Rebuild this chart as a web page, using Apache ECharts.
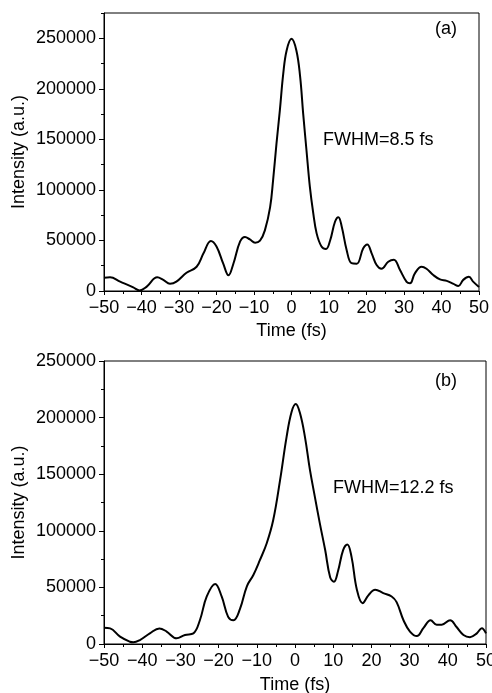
<!DOCTYPE html>
<html>
<head>
<meta charset="utf-8">
<script src="https://cdn.jsdelivr.net/npm/echarts@6/dist/echarts.min.js"></script>
<style>
html,body{margin:0;padding:0;background:#fff;}
#chart{width:492px;height:693px;}
</style>
</head>
<body>
<div id="chart"></div>
<script>
// Panel (a)
var timeA = [-50,-48.4,-45.7,-42.2,-40.5,-38.6,-35.8,-34.2,-32.4,-30.7,-28,-25.3,-23.5,-21.5,-20,-18.2,-16.8,-15.5,-13.7,-12.4,-11.1,-9.7,-8.4,-7.1,-5.7,-4.9,-4,-3.1,-2.2,-1.3,0,1.3,2.3,3.1,4,4.9,5.8,6.7,8,9.2,10.3,11.6,12.5,13.4,14.7,16,17.4,19.1,20.2,21.4,22.7,24,25.8,27.3,28.9,30.7,31.6,32.9,34.7,36,37.8,39.6,41.4,43.2,44.5,45.8,47.3,48.5,50];
var intensityA = [13000,13500,9200,3600,500,4300,13500,11000,7200,9200,18000,24000,37000,49500,44000,27000,15500,27000,49000,53500,51000,47800,49800,60000,83000,110000,146000,179000,215000,238000,249500,238000,212000,176000,139000,103000,77000,57000,44000,41500,50000,68500,73000,63600,40600,27500,27000,42000,46000,37000,25700,22000,29000,31000,21000,9000,7600,17500,24000,22000,15800,11500,10000,7000,5000,11000,14000,9000,4000];
// Panel (b)
var timeB = [-50,-48.4,-45.8,-43.2,-42.3,-40.6,-38,-35.5,-33.6,-31,-28.8,-26.6,-24.9,-23.1,-20.9,-19.2,-17.5,-16.1,-14.4,-12.6,-10.9,-9.2,-7.4,-5.7,-3.9,-2.2,-0.9,0.2,1.3,2.6,3.9,5.2,6.5,7.9,9.2,10.2,11.3,12.6,13.7,14.8,16.2,17.7,19.2,21,23.1,25.3,26.6,28.4,30.1,31.9,33.6,35.5,37.1,38.4,40.6,42.3,44.1,45.8,47.6,48.9,50];
var intensityB = [14400,13800,6500,2000,1500,3500,9400,13800,11000,5000,8000,9400,21000,42000,53000,42000,24000,21000,31000,51000,61000,74000,89000,109500,145000,183000,205000,212000,204000,183000,154000,130000,106600,83000,59000,55000,65000,83000,88000,77000,48000,36000,43000,48000,45000,42000,37000,21000,11000,7000,14000,21000,17000,17000,21000,15000,8000,6000,9400,14000,9400];

var xTicks = [-50,-40,-30,-20,-10,0,10,20,30,40,50];
var yTicks = [0,50000,100000,150000,200000,250000];
var panelLabels = ['(a)','(b)'];
var fwhmLabels = ['FWHM=8.5 fs','FWHM=12.2 fs'];
var xName = 'Time (fs)';
var yName = 'Intensity (a.u.)';

function zip(a,b){return a.map(function(t,i){return [t,b[i]];});}
var FONT = 'Liberation Sans, Arial, sans-serif';
var FS = 18;
function minusFmt(v){return String(v).replace('-','\u2212');}
function plainFmt(v){return String(v);}

function xAxisFor(grid, gap){
  return {
    gridIndex: grid, type:'value', min:-50, max:50, interval:10,
    name: xName, nameLocation:'middle', nameGap: gap, nameMoveOverlap:false,
    nameTextStyle:{fontFamily:FONT,fontSize:FS,color:'#000'},
    axisLine:{show:true,onZero:false,lineStyle:{color:'#000',width:1}},
    axisTick:{show:true,length:4,lineStyle:{color:'#000'}},
    minorTick:{show:true,splitNumber:2,length:3,lineStyle:{color:'#000'}},
    axisLabel:{fontFamily:FONT,fontSize:FS,color:'#000',margin:8,formatter:minusFmt},
    splitLine:{show:false}, minorSplitLine:{show:false}
  };
}
function yAxisMain(grid, max){
  return {
    gridIndex:grid, type:'value', min:0, max:max, interval:50000,
    name:yName, nameLocation:'middle', nameGap:76, nameMoveOverlap:false,
    nameTextStyle:{fontFamily:FONT,fontSize:FS,color:'#000'},
    axisLine:{show:true,onZero:false,lineStyle:{color:'#000',width:1}},
    axisTick:{show:true,length:5,customValues:yTicks,lineStyle:{color:'#000'}},
    axisLabel:{fontFamily:FONT,fontSize:FS,color:'#000',margin:8,customValues:yTicks,formatter:plainFmt},
    splitLine:{show:false}
  };
}
function yAxisMinor(grid, max){
  return {
    gridIndex:grid, type:'value', min:0, max:max, interval:25000, position:'left', offset:0,
    axisLine:{show:false,onZero:false},
    axisTick:{show:true,length:3,lineStyle:{color:'#000'}},
    axisLabel:{show:false},
    splitLine:{show:false}
  };
}

var chart = echarts.init(document.getElementById('chart'), null, {renderer:'canvas'});
chart.setOption({
  animation:false,
  backgroundColor:'#fff',
  grid:[
    {left:104, top:13, width:375, height:278, show:true, borderColor:'#000', borderWidth:1, backgroundColor:'transparent', containLabel:false, outerBoundsMode:'none'},
    {left:104, top:361, width:382, height:283, show:true, borderColor:'#000', borderWidth:1, backgroundColor:'transparent', containLabel:false, outerBoundsMode:'none'}
  ],
  xAxis:[ xAxisFor(0,31), xAxisFor(1,32) ],
  yAxis:[ yAxisMain(0,275000), yAxisMain(1,250000), yAxisMinor(0,275000), yAxisMinor(1,250000) ],
  series:[
    {type:'line', xAxisIndex:0, yAxisIndex:0, data:zip(timeA,intensityA), smooth:0.4, showSymbol:false, lineStyle:{color:'#000',width:2}},
    {type:'line', xAxisIndex:1, yAxisIndex:1, data:zip(timeB,intensityB), smooth:0.4, showSymbol:false, lineStyle:{color:'#000',width:2}}
  ],
  graphic:[
    {type:'text', left:435, top:20, style:{text:panelLabels[0], font:FS+'px '+FONT, fill:'#000'}},
    {type:'text', left:435, top:372, style:{text:panelLabels[1], font:FS+'px '+FONT, fill:'#000'}},
    {type:'text', left:323, top:131, style:{text:fwhmLabels[0], font:FS+'px '+FONT, fill:'#000'}},
    {type:'text', left:333, top:479, style:{text:fwhmLabels[1], font:FS+'px '+FONT, fill:'#000'}}
  ]
});
</script>
</body>
</html>
